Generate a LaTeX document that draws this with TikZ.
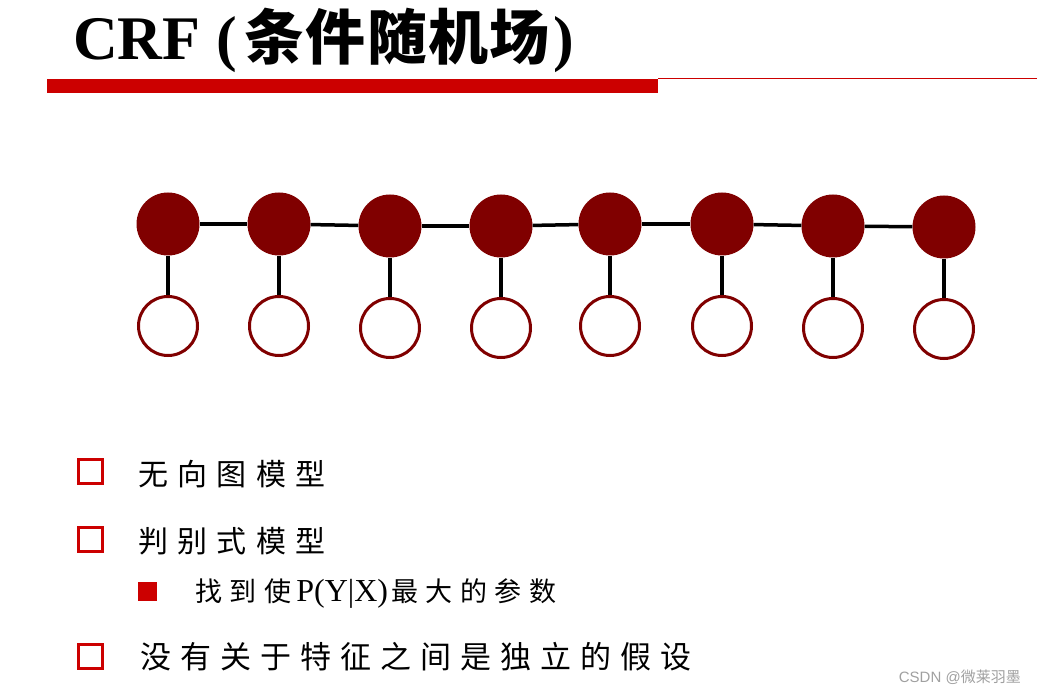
\documentclass[tikz,border=0pt]{standalone}
\usepackage{fontspec}
\setmainfont{Liberation Serif}
\newfontfamily\cjk{Noto Sans CJK SC}
\newfontfamily\cjkb{Noto Sans CJK SC Bold}
\newfontfamily\wmfont{Liberation Sans}
\definecolor{nodered}{RGB}{128,0,0}
\definecolor{barred}{RGB}{204,0,0}
\definecolor{wmgray}{RGB}{160,160,160}
\tikzset{
  hidden/.style={circle,fill=nodered,minimum size=63pt,inner sep=0pt},
  observed/.style={circle,draw=nodered,line width=3pt,fill=white,minimum size=59pt,inner sep=0pt},
  edge/.style={line width=3.5pt,black},
  txt/.style={anchor=west,inner sep=0pt},
  hollowbullet/.style={draw=barred,line width=3pt,minimum size=24pt,inner sep=0pt},
  fullbullet/.style={fill=barred,minimum size=19pt,inner sep=0pt}
}
\begin{document}
\begin{tikzpicture}[x=1pt,y=-1pt]
\useasboundingbox (0,0) rectangle (1037,695);
% title
\node[anchor=base west,inner sep=0pt] (title) at (73,60)
  {\fontsize{62}{70}\selectfont\bfseries CRF (\kern8pt{\cjkb\fontsize{60}{64}\selectfont\addfontfeature{LetterSpace=2}条件随机场}\kern4pt)};
% bars
\fill[barred] (47,79) rectangle (658,93);
\draw[barred,line width=1.3pt] (658,78.3) -- (1037,78.3);
% nodes
\foreach \i/\x/\y in {1/168/224,2/279/224,3/390/226,4/501/226,5/610/224,6/722/224,7/833/226,8/944/227}{
  \node[hidden] (f\i) at (\x,\y) {};
  \node[observed] (o\i) at (\x,\y+102) {};
}
\foreach \i [evaluate=\i as \j using int(\i+1)] in {1,...,7}{
  \draw[edge] (f\i) -- (f\j);
}
\foreach \i in {1,...,8}{
  \draw[edge] (f\i) -- (o\i);
}
% bullets
\node[hollowbullet] (b1) at (90.5,471.5) {};
\node[txt] (t1) at (138,474) {\cjk\fontsize{30}{34}\selectfont\addfontfeature{LetterSpace=31}无向图模型};
\node[hollowbullet] (b2) at (90.5,539) {};
\node[txt] (t2) at (138,541) {\cjk\fontsize{30}{34}\selectfont\addfontfeature{LetterSpace=31}判别式模型};
\node[fullbullet] (b3) at (147,591.5) {};
\node[txt] (t3) at (195,594) {{\cjk\fontsize{27}{30}\selectfont\addfontfeature{LetterSpace=28}找到使}\kern5pt{\fontsize{32}{36}\selectfont P(Y|X)}\kern3pt{\cjk\fontsize{27}{30}\selectfont\addfontfeature{LetterSpace=28}最大的参数}};
\node[hollowbullet] (b4) at (90.5,656) {};
\node[txt] (t4) at (140,657) {\cjk\fontsize{31}{35}\selectfont\addfontfeature{LetterSpace=29}没有关于特征之间是独立的假设};
% watermark
\node[anchor=east,inner sep=0pt,text=wmgray] (wm) at (1021,677) {\wmfont\fontsize{15}{17}\selectfont CSDN @{\cjk 微莱羽墨}};
\end{tikzpicture}
\end{document}
